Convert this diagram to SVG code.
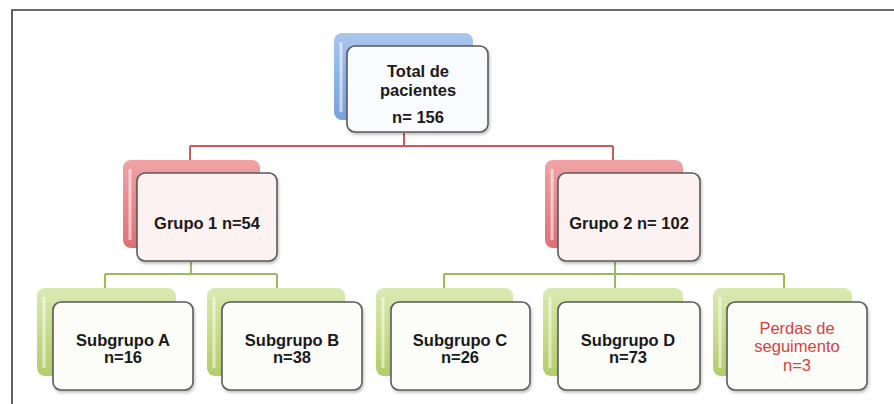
<svg xmlns="http://www.w3.org/2000/svg" width="894" height="404" viewBox="0 0 894 404">
<defs>
<linearGradient id="gBlue" x1="0" y1="0" x2="0" y2="1"><stop offset="0" stop-color="#a9c6ee"/><stop offset="0.5" stop-color="#8db3e6"/><stop offset="1" stop-color="#7aa3dc"/></linearGradient>
<linearGradient id="gRed" x1="0" y1="0" x2="0" y2="1"><stop offset="0" stop-color="#f0a3a5"/><stop offset="0.5" stop-color="#e88a8d"/><stop offset="1" stop-color="#de7174"/></linearGradient>
<linearGradient id="gGreen" x1="0" y1="0" x2="0" y2="1"><stop offset="0" stop-color="#dbe9b4"/><stop offset="0.5" stop-color="#c8dc8c"/><stop offset="1" stop-color="#b3cc6c"/></linearGradient>
<filter id="sh" x="-10%" y="-10%" width="125%" height="130%"><feDropShadow dx="1" dy="2" stdDeviation="1.5" flood-color="#000" flood-opacity="0.25"/></filter>
</defs>
<style>
.frame{fill:none;stroke:#3a3a3a;stroke-width:1.6}
.back{stroke:none}
.hl{fill:none;stroke:#ffffff;stroke-opacity:0.55;stroke-width:3}
.front{fill:#ffffff;stroke:#5a5a5a;stroke-width:1.6;filter:url(#sh)}
.fb{fill:#f9fbff}
.fr{fill:#fdf2f2}
.fg{fill:#fcfdf8}
.red{fill:none;stroke:#cc5a57;stroke-width:2}
.green{fill:none;stroke:#9bbb59;stroke-width:2}
text{font-family:"Liberation Sans",Arial,sans-serif;font-weight:bold;font-size:16.5px;fill:#1a1a1a;text-anchor:middle}
.lost{font-weight:normal;fill:#d9403f;font-size:16.5px}
</style>
<rect width="894" height="404" fill="#ffffff"/>
<path class="frame" d="M12,404 V10 H894"/>
<g id="connectors">
<path class="red" d="M404,133 V146 M190,146 H613 M190,146 V160 M613,146 V160"/>
<path class="green" d="M191,262 V274 M105,274 H277 M105,274 V288 M277,274 V288"/>
<path class="green" d="M615,262 V274 M444,274 H784 M444,274 V288 M615,274 V288 M784,274 V288"/>
</g>
<g id="total">
<rect class="back" x="334" y="33" width="139" height="87" rx="8" fill="url(#gBlue)"/>
<path class="hl" d="M341,112 V42"/>
<rect class="front fb" x="347" y="46" width="141" height="86" rx="8"/>
<text x="418" y="77">Total de</text>
<text x="418" y="96">pacientes</text>
<text x="418" y="123">n= 156</text>
</g>
<g id="grupo1">
<rect class="back" x="123" y="160" width="137" height="88" rx="8" fill="url(#gRed)"/>
<path class="hl" d="M130,240 V169"/>
<rect class="front fr" x="137" y="173" width="140" height="88" rx="8"/>
<text x="207" y="229">Grupo 1 n=54</text>
</g>
<g id="grupo2">
<rect class="back" x="545" y="160" width="138" height="88" rx="8" fill="url(#gRed)"/>
<path class="hl" d="M552,240 V169"/>
<rect class="front fr" x="558" y="173" width="142" height="88" rx="8"/>
<text x="629" y="229">Grupo 2 n= 102</text>
</g>
<g id="subA">
<rect class="back" x="37" y="288" width="139" height="88" rx="8" fill="url(#gGreen)"/>
<path class="hl" d="M44,368 V297"/>
<rect class="front fg" x="53" y="302" width="140" height="88" rx="8"/>
<text x="123" y="346">Subgrupo A</text>
<text x="123" y="363">n=16</text>
</g>
<g id="subB">
<rect class="back" x="207" y="288" width="138" height="88" rx="8" fill="url(#gGreen)"/>
<path class="hl" d="M214,368 V297"/>
<rect class="front fg" x="222" y="302" width="140" height="88" rx="8"/>
<text x="292" y="346">Subgrupo B</text>
<text x="292" y="363">n=38</text>
</g>
<g id="subC">
<rect class="back" x="376" y="288" width="137" height="88" rx="8" fill="url(#gGreen)"/>
<path class="hl" d="M383,368 V297"/>
<rect class="front fg" x="391" y="302" width="139" height="88" rx="8"/>
<text x="460" y="346">Subgrupo C</text>
<text x="460" y="363">n=26</text>
</g>
<g id="subD">
<rect class="back" x="543" y="288" width="140" height="88" rx="8" fill="url(#gGreen)"/>
<path class="hl" d="M550,368 V297"/>
<rect class="front fg" x="558" y="302" width="142" height="88" rx="8"/>
<text x="628" y="346">Subgrupo D</text>
<text x="628" y="363">n=73</text>
</g>
<g id="perdas">
<rect class="back" x="713" y="288" width="139" height="88" rx="8" fill="url(#gGreen)"/>
<path class="hl" d="M720,368 V297"/>
<rect class="front fg" x="727" y="302" width="140" height="88" rx="8"/>
<text class="lost" x="797" y="334">Perdas de</text>
<text class="lost" x="797" y="352">seguimento</text>
<text class="lost" x="797" y="371">n=3</text>
</g>
</svg>
